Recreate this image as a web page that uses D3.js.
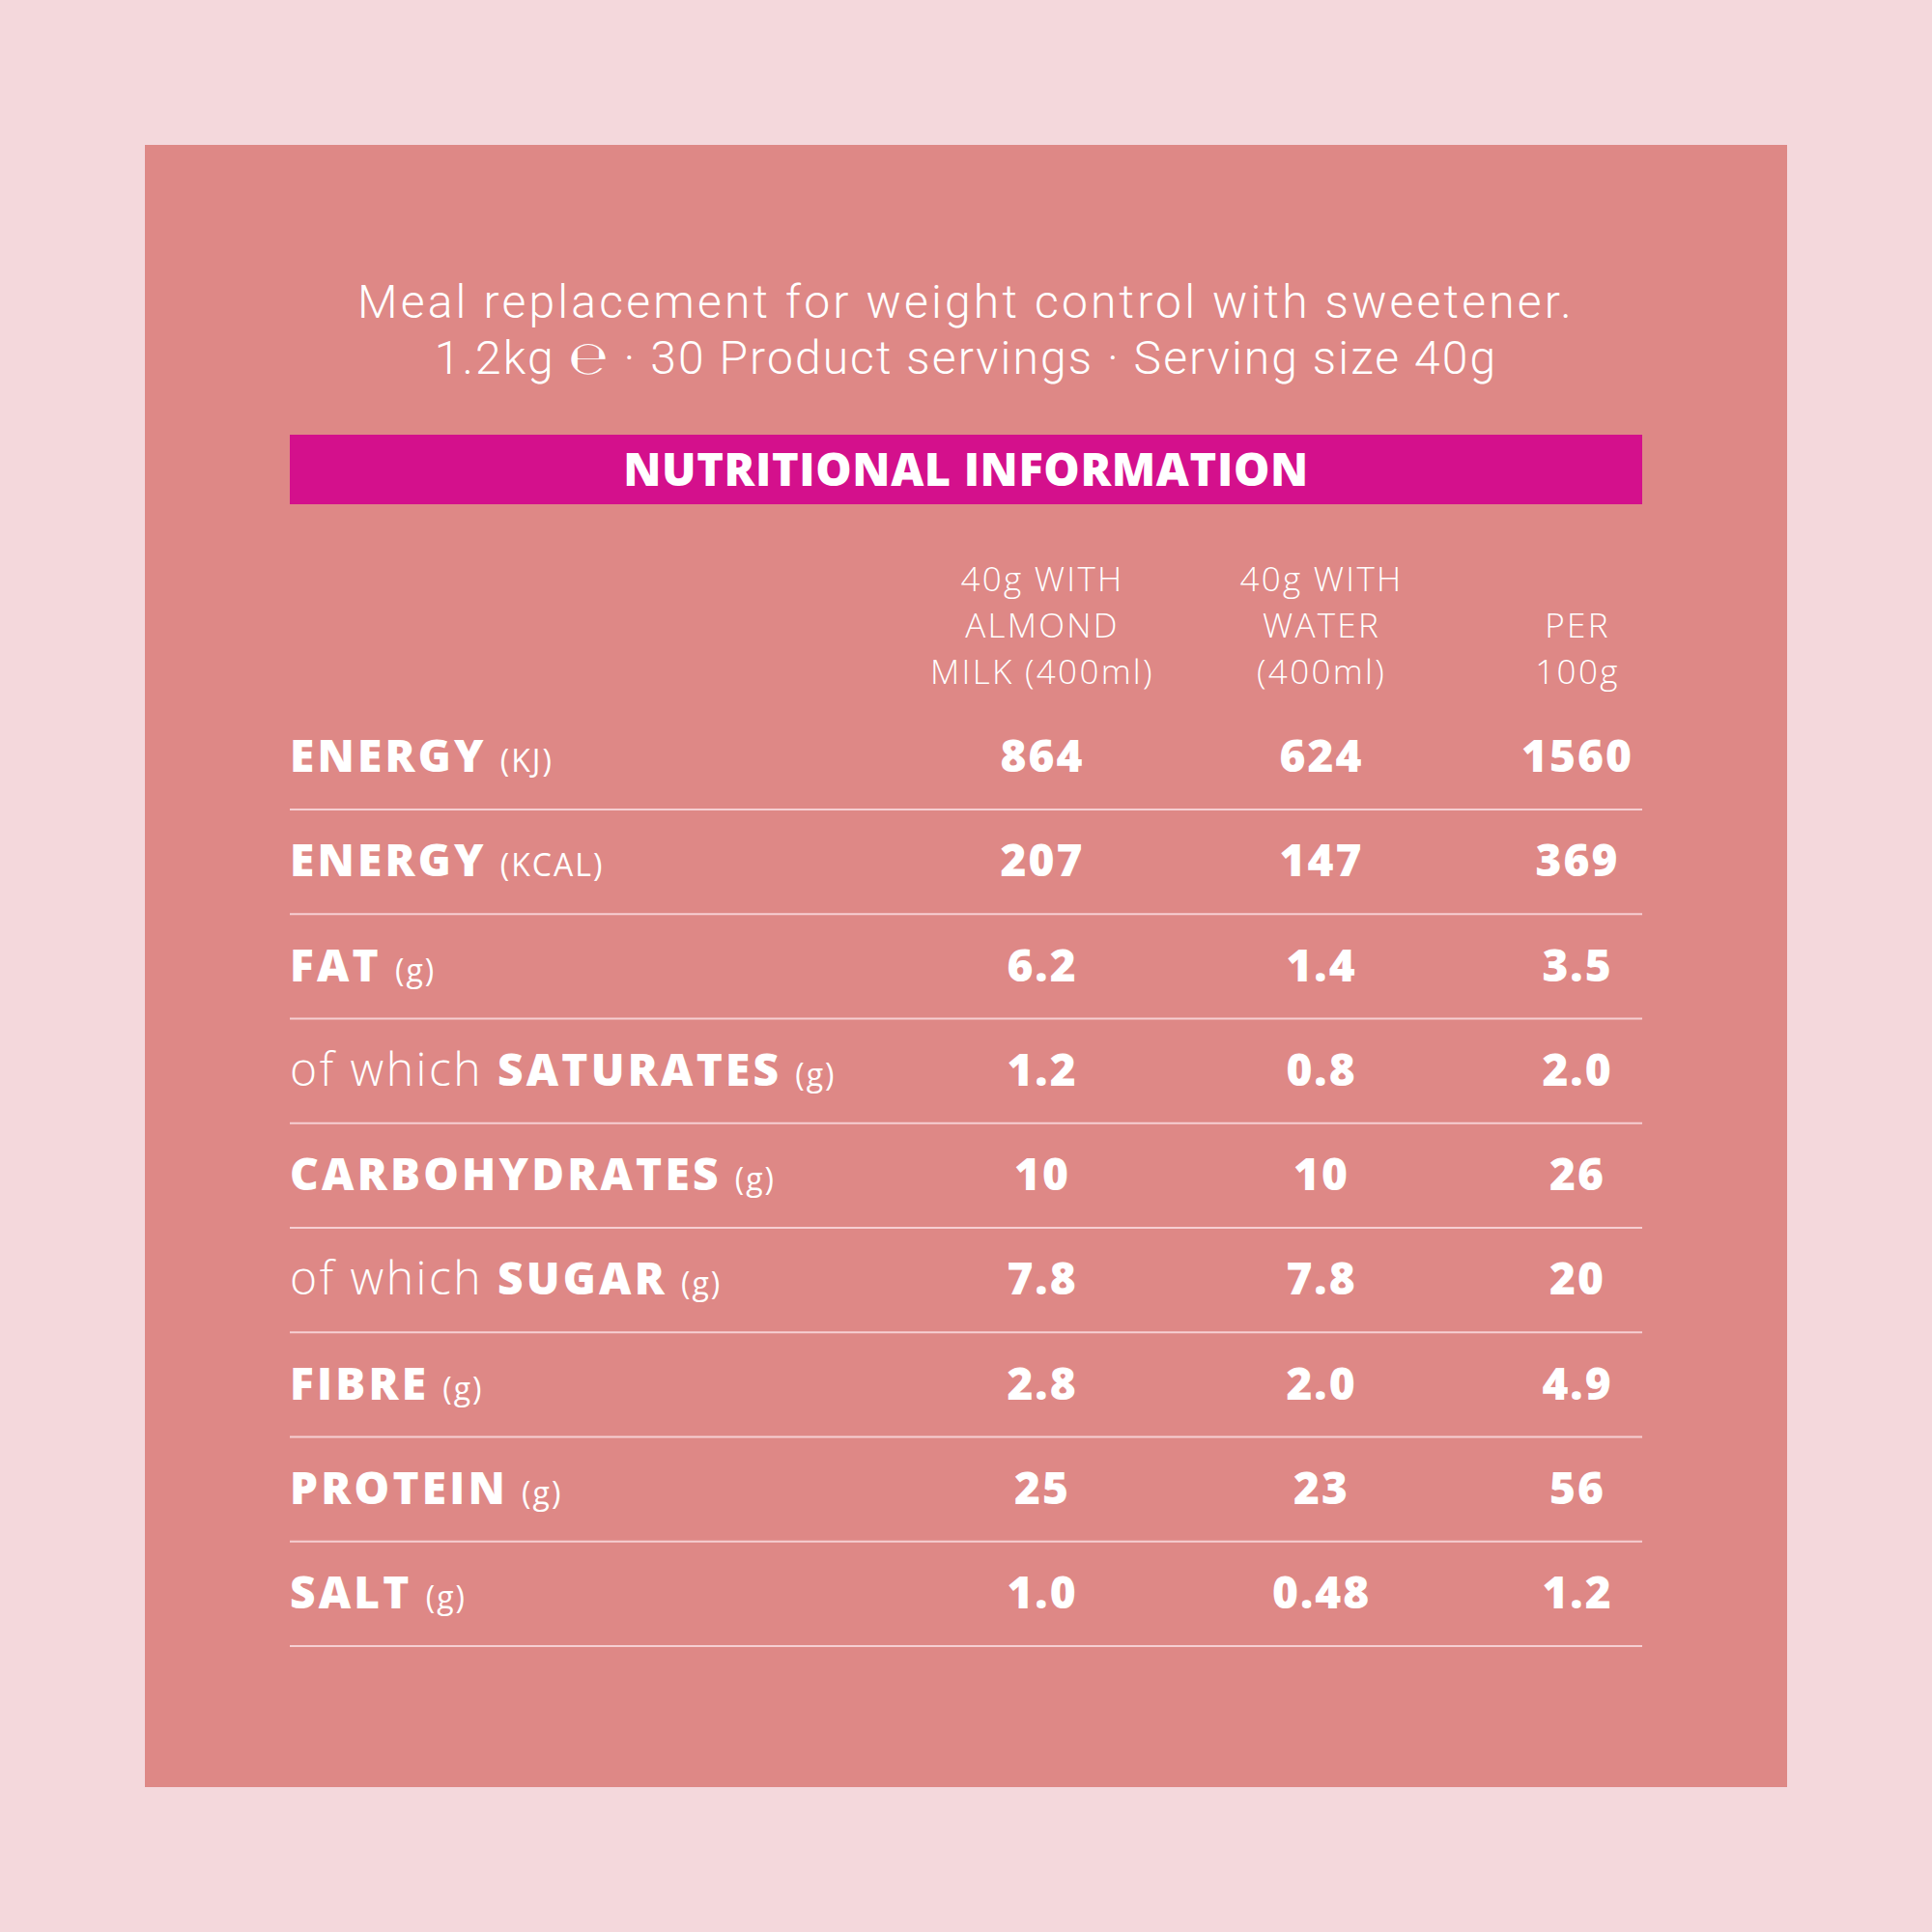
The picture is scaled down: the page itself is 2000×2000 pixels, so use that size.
<!DOCTYPE html>
<html>
<head>
<meta charset="utf-8">
<script src="https://cdn.jsdelivr.net/npm/d3@7"></script>
<style>
  html, body { margin: 0; padding: 0; background: #f4d8dc; }
  svg { display: block; }
</style>
</head>
<body>
<div id="chart"></div>
<script>
// ---- data ----
const titleLine1 = "Meal replacement for weight control with sweetener.";
const titleLine2Parts = ["1.2kg ", "\u212E", " \u00B7 30 Product servings \u00B7 Serving size 40g"];
const bannerText = "NUTRITIONAL INFORMATION";
const columns = ["almond", "water", "per100"];
const columnHeaders = [
  ["40g WITH", "ALMOND", "MILK (400ml)"],
  ["40g WITH", "WATER", "(400ml)"],
  ["", "PER", "100g"]
];
const prefixes = ["", "", "", "of which", "", "of which", "", "", ""];
const nutrients = ["ENERGY", "ENERGY", "FAT", "SATURATES", "CARBOHYDRATES", "SUGAR", "FIBRE", "PROTEIN", "SALT"];
const units = ["(KJ)", "(KCAL)", "(g)", "(g)", "(g)", "(g)", "(g)", "(g)", "(g)"];
const almondMilk = ["864", "207", "6.2", "1.2", "10", "7.8", "2.8", "25", "1.0"];
const water = ["624", "147", "1.4", "0.8", "10", "7.8", "2.0", "23", "0.48"];
const per100g = ["1560", "369", "3.5", "2.0", "26", "20", "4.9", "56", "1.2"];

// ---- layout ----
const W = 2000, H = 2000;
const FONT = "'Open Sans', 'Noto Sans', sans-serif";
const TITLE_FONT = "Roboto, 'Open Sans', sans-serif";
const svg = d3.select("#chart").append("svg").attr("width", W).attr("height", H);

svg.append("rect").attr("width", W).attr("height", H).attr("fill", "#f4d8dc");
svg.append("rect").attr("x", 150).attr("y", 150).attr("width", 1700).attr("height", 1700).attr("fill", "#de8886");

// title
svg.append("text")
  .attr("x", 1000).attr("y", 329)
  .attr("text-anchor", "middle")
  .attr("fill", "#ffffff")
  .attr("font-family", TITLE_FONT)
  .attr("font-weight", 300)
  .attr("font-size", 48)
  .attr("letter-spacing", 3.2)
  .text(titleLine1);
const t2 = svg.append("text")
  .attr("x", 1000).attr("y", 387)
  .attr("text-anchor", "middle")
  .attr("fill", "#ffffff")
  .attr("font-family", TITLE_FONT)
  .attr("font-weight", 300)
  .attr("font-size", 48)
  .attr("letter-spacing", 2.1);
titleLine2Parts.forEach((p, i) => {
  const ts = t2.append("tspan").text(p);
  if (i === 1) ts.attr("font-family", "'DejaVu Sans', sans-serif").attr("font-weight", 200).attr("font-size", 48);
});

// banner
svg.append("rect").attr("x", 300).attr("y", 450).attr("width", 1400).attr("height", 72).attr("fill", "#d4108c");
svg.append("text")
  .attr("x", 1000).attr("y", 503)
  .attr("text-anchor", "middle")
  .attr("fill", "#ffffff")
  .attr("font-family", FONT)
  .attr("font-weight", 800)
  .attr("font-size", 47)
  .attr("letter-spacing", 0.6)
  .text(bannerText);

// scales
const xCol = d3.scaleOrdinal().domain(columns).range([1078, 1367, 1632]);
const rowIdx = d3.range(nutrients.length);
const yRow = d3.scaleLinear().domain([0, nutrients.length - 1]).range([799, 1665]);
const yHead = d3.scaleLinear().domain([0, 2]).range([612, 708]);

// column headers
columns.forEach((c, ci) => {
  svg.selectAll("text.head" + ci).data(columnHeaders[ci]).join("text")
    .attr("class", "head" + ci)
    .attr("x", xCol(c) + 1)
    .attr("y", (d, i) => yHead(i))
    .attr("text-anchor", "middle")
    .attr("fill", "#ffffff")
    .attr("font-family", FONT)
    .attr("font-weight", 300)
    .attr("font-size", 35)
    .attr("letter-spacing", 2.3)
    .text(d => d);
});

// row separator lines
svg.selectAll("line.sep").data(rowIdx).join("line")
  .attr("class", "sep")
  .attr("x1", 300).attr("x2", 1700)
  .attr("y1", i => yRow(i) + 39).attr("y2", i => yRow(i) + 39)
  .attr("stroke", "#f6cfd2")
  .attr("stroke-width", 2);

// row labels
const labels = svg.selectAll("text.label").data(rowIdx).join("text")
  .attr("class", "label")
  .attr("x", 300)
  .attr("y", i => yRow(i))
  .attr("fill", "#ffffff")
  .attr("font-family", FONT);
labels.each(function(i) {
  const t = d3.select(this);
  if (prefixes[i]) {
    t.append("tspan").attr("font-weight", 300).attr("font-size", 48).attr("letter-spacing", 2.5).text(prefixes[i] + " ");
  }
  t.append("tspan").attr("font-weight", 800).attr("font-size", 46).attr("letter-spacing", 3.2).text(nutrients[i]);
  t.append("tspan").attr("font-weight", 400).attr("font-size", 32).attr("letter-spacing", 2).attr("dx", 14).text(units[i]);
});

// values
const valueSeries = [almondMilk, water, per100g];
columns.forEach((c, ci) => {
  svg.selectAll("text.val" + ci).data(valueSeries[ci]).join("text")
    .attr("class", "val" + ci)
    .attr("x", xCol(c) + 1)
    .attr("y", (d, i) => yRow(i))
    .attr("text-anchor", "middle")
    .attr("fill", "#ffffff")
    .attr("font-family", FONT)
    .attr("font-weight", 800)
    .attr("font-size", 46)
    .attr("letter-spacing", 2)
    .text(d => d);
});
</script>
</body>
</html>
